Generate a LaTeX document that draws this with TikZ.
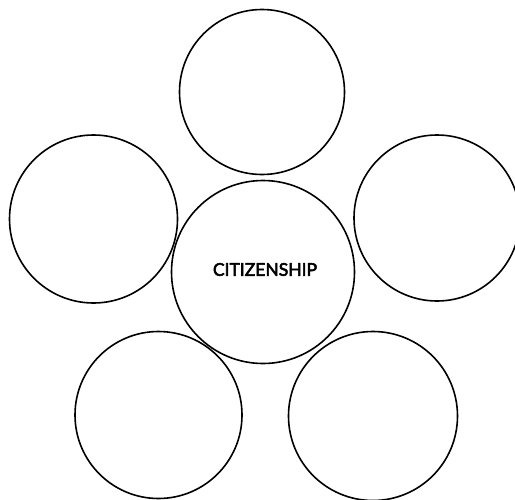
\documentclass[tikz,border=0pt]{standalone}
\usepackage{fontspec}
\newfontfamily\labelfont{Lato}[FakeBold=3]
\begin{document}
\begin{tikzpicture}[x=1pt,y=-1pt,
  ring/.style={draw=black,line width=1.6pt,circle,inner sep=0pt},
  lbl/.style={font=\labelfont\fontsize{17.5}{20}\selectfont}]
\useasboundingbox (0,0) rectangle (515,499);
\node[ring,minimum size=165pt] (top) at (262,92) {};
\node[ring,minimum size=168pt] (left) at (93.5,219) {};
\node[ring,minimum size=166pt] (right) at (437,218) {};
\node[ring,minimum size=183pt] (center) at (263,272) {};
\node[ring,minimum size=167pt] (botleft) at (158.5,415) {};
\node[ring,minimum size=169pt] (botright) at (373,416) {};
\node[lbl,anchor=center] (label) at (265,269.5) {CITIZENSHIP};
\end{tikzpicture}
\end{document}
